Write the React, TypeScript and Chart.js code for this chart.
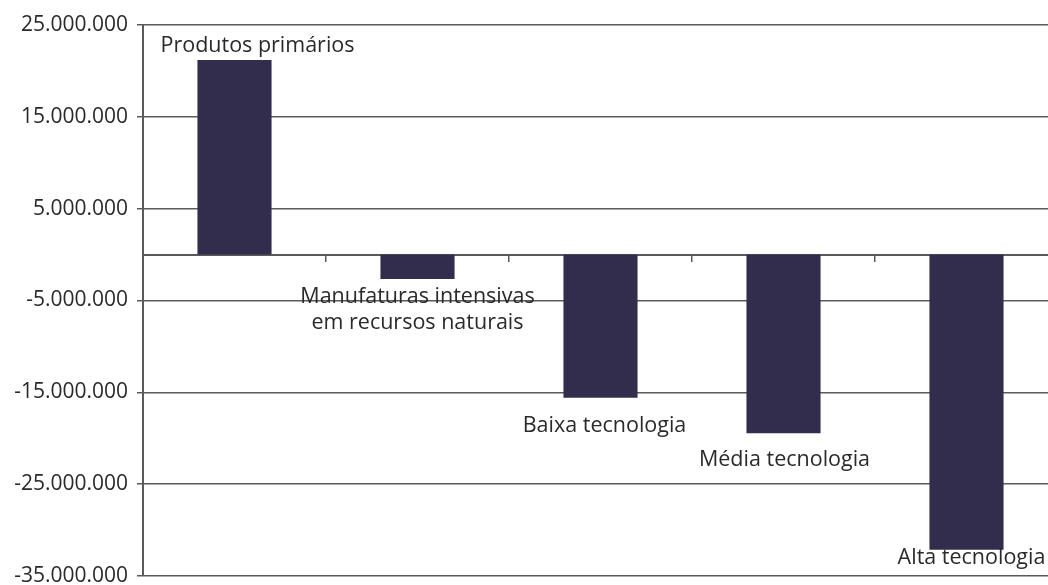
import React, { useEffect, useRef } from "react";
import { Chart, registerables } from "chart.js";

Chart.register(...registerables);

const categories: string[] = [
  "Produtos primários",
  "Manufaturas intensivas\nem recursos naturais",
  "Baixa tecnologia",
  "Média tecnologia",
  "Alta tecnologia",
];
const values: number[] = [21200000, -2650000, -15600000, -19450000, -32150000];
const yTicks: number[] = [25000000, 15000000, 5000000, -5000000, -15000000, -25000000, -35000000];

// label placement tweaks (styling only): offset from bar end
const labelDx: number[] = [23, 0, 4, 1, 5];
const labelDy: number[] = [-14, 18, 28, 27, 8];

const fmt = (v: number): string => {
  const s = Math.abs(Math.round(v)).toString().replace(/\B(?=(\d{3})+(?!\d))/g, ".");
  return (v < 0 ? "-" : "") + s;
};

const labelPlugin = {
  id: "barLabels",
  afterDatasetsDraw(chart: any) {
    const ctx = chart.ctx;
    const meta = chart.getDatasetMeta(0);
    ctx.save();
    ctx.font = '21.5px "Open Sans"';
    ctx.fillStyle = "#2a2a2a";
    ctx.textAlign = "center";
    ctx.textBaseline = "middle";
    meta.data.forEach((bar: any, i: number) => {
      const lines = categories[i].split("\n");
      const x = bar.x + labelDx[i];
      const y0 = bar.y + labelDy[i];
      lines.forEach((ln, j) => ctx.fillText(ln, x, y0 + j * 26));
    });
    ctx.restore();
  },
};

export default function App() {
  const ref = useRef<HTMLCanvasElement | null>(null);
  useEffect(() => {
    document.body.style.margin = "0";
    const chart = new Chart(ref.current as HTMLCanvasElement, {
      type: "bar",
      data: {
        labels: categories,
        datasets: [
          {
            data: values,
            backgroundColor: "#322d4d",
            barPercentage: 0.405,
            categoryPercentage: 1,
          },
        ],
      },
      options: {
        animation: false,
        responsive: false,
        layout: { padding: { top: 25, bottom: 9, left: 0, right: 0 } },
        plugins: { legend: { display: false }, tooltip: { enabled: false } },
        scales: {
          y: {
            min: -35000000,
            max: 25000000,
            afterBuildTicks: (scale: any) => {
              scale.ticks = yTicks.map((v) => ({ value: v }));
            },
            afterFit: (scale: any) => {
              scale.width = 143;
              scale.paddingTop = 0;
              scale.paddingBottom = 0;
            },
            ticks: {
              callback: (v: any) => fmt(Number(v)),
              font: { family: '"Open Sans"', size: 21 },
              color: "#2a2a2a",
              padding: 9,
            },
            grid: { color: "#5a5a5a", lineWidth: 1.5, tickLength: 6 },
            border: { color: "#5a5a5a", width: 2 },
          },
          x: {
            position: { y: 0 } as any,
            ticks: { display: false },
            grid: {
              drawOnChartArea: false,
              drawTicks: true,
              tickLength: 6,
              color: "#5a5a5a",
              lineWidth: 1.5,
            },
            border: { color: "#5a5a5a", width: 2 },
          },
        },
      },
      plugins: [labelPlugin],
    });
    return () => chart.destroy();
  }, []);
  return (
    <div
      style={{
        position: "absolute",
        left: 0,
        top: 0,
        width: 1048,
        height: 585,
        overflow: "hidden",
        background: "#fff",
      }}
    >
      <canvas ref={ref} width={1058} height={585} style={{ display: "block" }} />
    </div>
  );
}
